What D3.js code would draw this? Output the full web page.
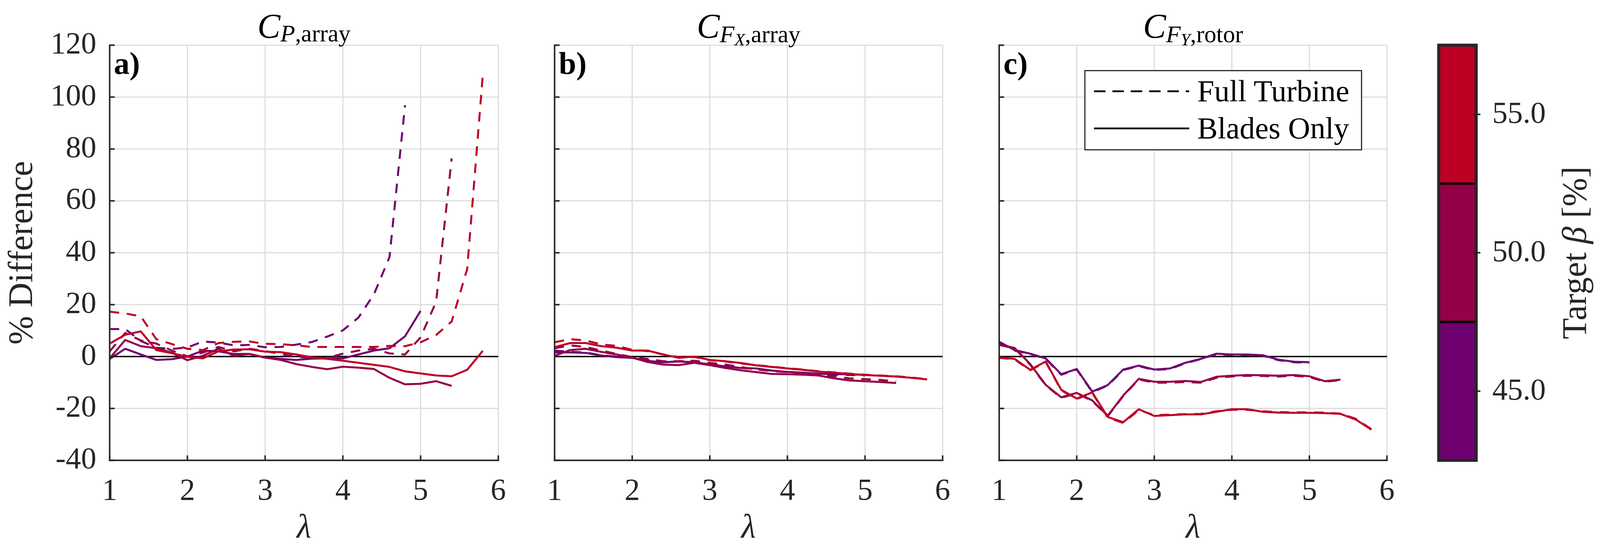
<!DOCTYPE html>
<html><head><meta charset="utf-8">
<script src="https://cdn.jsdelivr.net/npm/d3@7/dist/d3.min.js"></script>
<style>html,body{margin:0;padding:0;background:#fff;overflow:hidden;width:100%;height:100%}svg{display:block;width:100vw;height:100vh}</style>
</head><body>
<svg id="chart" viewBox="0 0 4187 1412" preserveAspectRatio="xMidYMid meet"></svg>
<script>
// ---------------- DATA ----------------
const lambda = [1.0,1.2,1.4,1.6,1.8,2.0,2.2,2.4,2.6,2.8,3.0,3.2,3.4,3.6,3.8,4.0,4.2,4.4,4.6,4.8,5.0,5.2,5.4,5.6,5.8];
const betaTargets = [45, 50, 55];
const xTicks = [1,2,3,4,5,6];
const yTicks = [-40,-20,0,20,40,60,80,100,120];
const yTickLabels = ["-40","-20","0","20","40","60","80","100","120"];
const cbTicks = [45, 50, 55];
const cbTickLabels = ["45.0","50.0","55.0"];
const cbEdges = [42.5, 47.5, 52.5, 57.5];

// C_P,array  (% difference)
const cpFull45   = [10.6,10.6,6.0,3.4,2.9,3.5,5.8,5.4,4.3,4.5,3.6,3.7,4.6,5.6,7.7,10.1,15.0,24.0,38.3,96.9];
const cpFull50   = [2.0,9.1,6.2,5.0,2.3,0.1,1.5,3.7,2.0,3.0,2.1,1.0,0.0,-0.5,-0.5,1.1,2.3,3.0,1.2,0.8,7.4,21.1,76.4];
const cpFull55   = [17.3,16.6,15.5,6.7,4.8,3.0,2.5,5.2,5.7,5.8,4.9,4.8,4.3,3.7,3.7,3.7,3.7,3.7,4.1,4.0,5.5,8.3,13.5,33.8,108.3];
const cpBlades45 = [-0.9,3.0,0.8,-1.3,-1.0,0.0,2.3,2.0,1.0,1.0,-0.4,-0.9,-1.3,-0.8,-0.7,-0.7,0.8,2.3,3.2,7.8,17.6];
const cpBlades50 = [-0.7,6.4,4.0,3.2,1.5,-1.4,0.3,3.0,0.3,1.0,-0.4,-1.3,-2.9,-4.0,-4.9,-3.9,-4.3,-4.8,-8.2,-10.7,-10.5,-9.5,-11.3];
const cpBlades55 = [5.0,8.4,9.7,2.5,1.3,-0.1,-0.7,2.0,2.7,2.8,1.9,1.7,0.8,-0.3,-0.9,-1.6,-2.4,-3.2,-4.0,-5.7,-6.5,-7.3,-7.6,-5.1,2.2];

// C_FX,array
const cfxFull45   = [2.3,1.8,1.6,0.5,0.0,-0.4,-1.4,-1.9,-1.8,-2.2,-2.9,-3.6,-4.4,-4.8,-5.5,-6.0,-6.3,-6.7,-7.0,-7.1,-7.3];
const cfxFull50   = [3.2,4.3,3.7,2.3,1.0,-0.2,-0.9,-1.8,-1.8,-1.6,-2.4,-3.1,-4.0,-5.0,-5.6,-6.0,-6.3,-6.8,-7.6,-8.4,-8.7,-9.0,-9.6];
const cfxFull55   = [5.5,6.7,6.2,4.7,4.1,2.6,2.1,0.8,-0.2,-0.2,-1.4,-1.9,-2.7,-3.3,-3.9,-4.5,-5.0,-5.7,-6.1,-6.6,-7.0,-7.3,-7.6,-8.1,-8.7];
const cfxBlades45 = [1.6,1.6,1.4,0.4,-0.2,-0.5,-1.7,-2.2,-1.9,-2.2,-3.0,-3.8,-4.4,-4.6,-5.4,-5.9,-6.2,-6.6,-6.8,-6.8,-7.1];
const cfxBlades50 = [0.3,2.5,3.0,1.8,0.8,-0.4,-2.1,-3.1,-3.3,-2.4,-3.3,-4.4,-5.3,-6.0,-6.7,-6.8,-7.0,-7.3,-8.4,-9.2,-9.5,-9.8,-10.2];
const cfxBlades55 = [3.6,5.2,5.2,4.0,3.4,2.3,2.3,0.8,-0.5,0.0,-1.3,-1.8,-2.5,-3.4,-4.0,-4.6,-5.1,-5.8,-6.2,-6.7,-7.1,-7.4,-7.7,-8.2,-8.8];

// C_FY,rotor
const cfyFull45   = [5.5,2.3,1.0,-0.9,-7.0,-5.0,-13.7,-11.2,-5.2,-3.7,-5.2,-4.8,-2.6,-1.0,0.9,0.6,0.6,0.3,-1.4,-2.2,-2.4];
const cfyFull50   = [4.5,3.1,-3.1,-11.1,-15.9,-14.2,-17.1,-23.0,-15.2,-8.8,-10.1,-10.1,-9.8,-10.1,-8.2,-7.7,-7.4,-7.5,-7.7,-7.4,-7.9,-9.7,-9.1];
const cfyFull55   = [-0.5,-1.1,-5.3,-2.1,-13.0,-16.4,-14.0,-23.5,-25.6,-20.6,-22.6,-22.4,-22.2,-22.1,-21.1,-20.5,-20.5,-21.1,-21.4,-21.5,-21.5,-21.6,-22.0,-24.0,-28.0];
const cfyBlades45 = [5.7,2.5,1.1,-0.7,-6.8,-4.8,-13.5,-11.0,-5.0,-3.5,-5.0,-4.6,-2.4,-0.9,1.1,0.8,0.8,0.5,-1.2,-2.0,-2.2];
const cfyBlades50 = [4.7,3.3,-2.9,-10.9,-15.7,-14.0,-16.9,-22.8,-15.0,-8.6,-9.7,-9.7,-9.4,-9.8,-7.8,-7.4,-7.1,-7.2,-7.4,-7.1,-7.6,-9.5,-8.9];
const cfyBlades55 = [-0.35,-0.9,-5.1,-1.9,-12.8,-16.2,-13.8,-23.3,-25.3,-20.3,-22.9,-22.6,-22.3,-22.3,-21.3,-20.3,-20.3,-21.3,-21.6,-21.7,-21.7,-21.8,-22.1,-24.3,-28.2];

// ---------------- STYLE ----------------
const betaColors = ["#6e0070", "#960046", "#be0025"];
const FONT = "'Liberation Serif','Times New Roman',serif";
const AX = "#262626";

const svg = d3.select("#chart");
const W = 4187, H = 1412;
svg.append("rect").attr("width", W).attr("height", H).attr("fill", "#fff");

const yTop = 102.5, yBot = 1188;
const y = d3.scaleLinear().domain([-40, 120]).range([yBot, yTop]);

const panels = [
  { left: 287, right: 1304, letter: "a)", yLabels: true,
    title: [["C","i",90,0],["P","i",63,11],[",array","n",63,0]],
    full: [cpFull45, cpFull50, cpFull55], blades: [cpBlades45, cpBlades50, cpBlades55] },
  { left: 1451.3, right: 2466.8, letter: "b)", yLabels: false,
    title: [["C","i",90,0],["F","i",63,13],["X","i",45,8],[",array","n",63,-8]],
    full: [cfxFull45, cfxFull50, cfxFull55], blades: [cfxBlades45, cfxBlades50, cfxBlades55] },
  { left: 2614.7, right: 3629.5, letter: "c)", yLabels: false, legend: true,
    title: [["C","i",90,0],["F","i",63,13],["Y","i",45,8],[",rotor","n",63,-8]],
    full: [cfyFull45, cfyFull50, cfyFull55], blades: [cfyBlades45, cfyBlades50, cfyBlades55] }
];

const DASH = "25,20";
const LW = 5.2;

panels.forEach(p => {
  const x = d3.scaleLinear().domain([1, 6]).range([p.left, p.right]);
  const g = svg.append("g");

  // grid
  g.selectAll(".gx").data(xTicks).join("line")
    .attr("x1", d => x(d)).attr("x2", d => x(d)).attr("y1", yTop).attr("y2", yBot)
    .attr("stroke", "#dcdcdc").attr("stroke-width", 3);
  g.selectAll(".gy").data(yTicks).join("line")
    .attr("x1", p.left).attr("x2", p.right).attr("y1", d => y(d)).attr("y2", d => y(d))
    .attr("stroke", "#dcdcdc").attr("stroke-width", 3);

  // zero line
  g.append("line").attr("x1", x(1)).attr("x2", x(6)).attr("y1", y(0)).attr("y2", y(0))
    .attr("stroke", "#000").attr("stroke-width", 3.6);

  // data lines
  const line = d3.line().x((d, i) => x(lambda[i])).y(d => y(d));
  betaTargets.forEach((b, k) => {
    g.append("path").attr("d", line(p.full[k])).attr("fill", "none")
      .attr("stroke", betaColors[k]).attr("stroke-width", LW)
      .attr("stroke-dasharray", DASH).attr("stroke-linejoin", "round");
    g.append("path").attr("d", line(p.blades[k])).attr("fill", "none")
      .attr("stroke", betaColors[k]).attr("stroke-width", LW).attr("stroke-linejoin", "round");
  });

  // axes lines
  g.append("line").attr("x1", p.left).attr("x2", p.left).attr("y1", yTop - 2).attr("y2", yBot + 2)
    .attr("stroke", AX).attr("stroke-width", 4);
  g.append("line").attr("x1", p.left - 2).attr("x2", p.right + 2).attr("y1", yBot).attr("y2", yBot)
    .attr("stroke", AX).attr("stroke-width", 4);
  // ticks (inward)
  g.selectAll(".ty").data(yTicks).join("line")
    .attr("x1", p.left).attr("x2", p.left + 13).attr("y1", d => y(d)).attr("y2", d => y(d))
    .attr("stroke", AX).attr("stroke-width", 4);
  g.selectAll(".tx").data(xTicks).join("line")
    .attr("x1", d => x(d)).attr("x2", d => x(d)).attr("y1", yBot).attr("y2", yBot - 13)
    .attr("stroke", AX).attr("stroke-width", 4);

  // tick labels
  g.selectAll(".lx").data(xTicks).join("text")
    .attr("x", d => x(d)).attr("y", 1291).attr("text-anchor", "middle")
    .attr("font-family", FONT).attr("font-size", 80).attr("fill", AX).text(d => d);
  if (p.yLabels) {
    g.selectAll(".ly").data(yTicks).join("text")
      .attr("x", 252).attr("y", d => y(d) + 21).attr("text-anchor", "end")
      .attr("font-family", FONT).attr("font-size", 80).attr("fill", AX)
      .text((d, i) => yTickLabels[i]);
  }

  // x label
  g.append("text").attr("x", (p.left + p.right) / 2).attr("y", 1390).attr("text-anchor", "middle")
    .attr("font-family", FONT).attr("font-style", "italic").attr("font-size", 88).attr("fill", AX)
    .text("λ");

  // title
  const t = g.append("text").attr("x", (p.left + p.right) / 2).attr("y", 82)
    .attr("text-anchor", "middle").attr("font-family", FONT).attr("fill", "#000");
  p.title.forEach(([s, st, fs, dy]) => {
    t.append("tspan").attr("font-style", st === "i" ? "italic" : "normal")
      .attr("font-size", fs).attr("dy", dy).text(s);
  });

  // panel letter
  g.append("text").attr("x", p.left + 11).attr("y", 178)
    .attr("font-family", FONT).attr("font-weight", "bold").attr("font-size", 82).attr("fill", "#000")
    .text(p.letter);

  // legend
  if (p.legend) {
    const lg = g.append("g");
    lg.append("rect").attr("x", 2839).attr("y", 169).attr("width", 724).attr("height", 207)
      .attr("fill", "#fff").attr("stroke", AX).attr("stroke-width", 3);
    const items = [["Full Turbine", DASH, 223], ["Blades Only", null, 320]];
    items.forEach(([lab, da, yy]) => {
      const l = lg.append("line").attr("x1", 2863).attr("x2", 3112).attr("y1", yy).attr("y2", yy)
        .attr("stroke", "#000").attr("stroke-width", 4.6);
      if (da) l.attr("stroke-dasharray", "30,18");
      lg.append("text").attr("x", 3133).attr("y", yy + 26).attr("font-family", FONT)
        .attr("font-size", 80).attr("fill", "#000").text(lab);
    });
  }
});

// y label
svg.append("text").attr("transform", `translate(84,${(yTop + yBot) / 2}) rotate(-90)`)
  .attr("text-anchor", "middle").attr("font-family", FONT).attr("font-size", 90).attr("fill", AX)
  .text("% Difference");

// ---------------- COLORBAR ----------------
const cb = svg.append("g");
const cbX0 = 3765, cbX1 = 3863;
const cy = d3.scaleLinear().domain([42.5, 57.5]).range([yBot, yTop]);
cb.selectAll(".band").data(betaTargets).join("rect")
  .attr("x", cbX0).attr("width", cbX1 - cbX0)
  .attr("y", (d, i) => cy(cbEdges[i + 1])).attr("height", (d, i) => cy(cbEdges[i]) - cy(cbEdges[i + 1]))
  .attr("fill", (d, i) => betaColors[i]);
cb.selectAll(".sep").data(cbEdges.slice(1, 3)).join("line")
  .attr("x1", cbX0).attr("x2", cbX1).attr("y1", d => cy(d)).attr("y2", d => cy(d))
  .attr("stroke", "#000").attr("stroke-width", 6);
cb.append("rect").attr("x", cbX0).attr("y", yTop).attr("width", cbX1 - cbX0).attr("height", yBot - yTop)
  .attr("fill", "none").attr("stroke", AX).attr("stroke-width", 8);
cb.selectAll(".cbt").data(cbTicks).join("line")
  .attr("x1", cbX1 - 8).attr("x2", cbX1 + 11).attr("y1", d => cy(d)).attr("y2", d => cy(d))
  .attr("stroke", AX).attr("stroke-width", 4);
cb.selectAll(".cbl").data(cbTicks).join("text")
  .attr("x", 3905).attr("y", d => cy(d) + 22).attr("font-family", FONT).attr("font-size", 80)
  .attr("fill", AX).text((d, i) => cbTickLabels[i]);

// colorbar label: separate rotated text pieces (no tspans)
const cbParts = [["Target ", "normal"], ["β", "italic"], [" [%]", "normal"]];
const cbG = cb.append("g").attr("transform", `translate(4150,${(yTop + yBot) / 2}) rotate(-90)`);
const pieces = cbParts.map(([s, st]) => cbG.append("text").attr("font-family", FONT)
  .attr("font-size", 90).attr("font-style", st).attr("fill", AX).attr("y", 0)
  .style("white-space", "pre").attr("xml:space", "preserve").text(s));
const lens = pieces.map(el => el.node().getComputedTextLength());
const total = d3.sum(lens);
let off = -total / 2;
pieces.forEach((el, i) => { el.attr("x", off); off += lens[i]; });
</script>
</body></html>
